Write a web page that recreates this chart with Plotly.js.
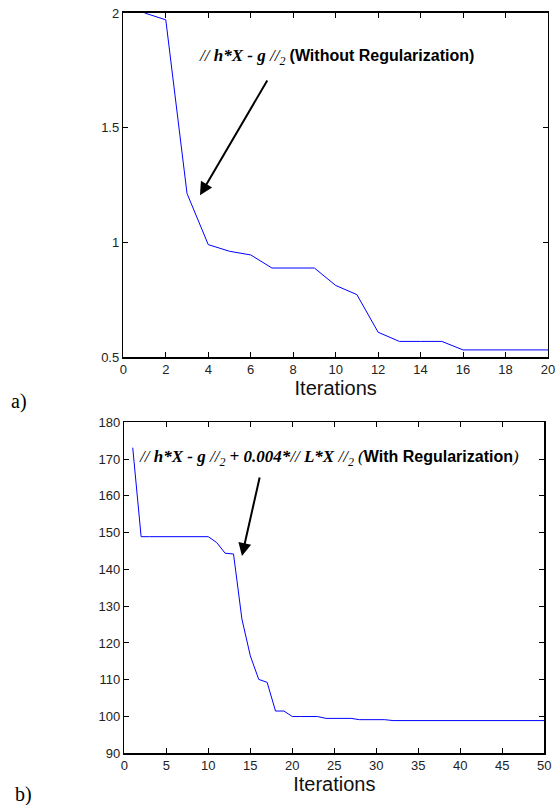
<!DOCTYPE html>
<html>
<head>
<meta charset="utf-8">
<script src="https://cdn.plot.ly/plotly-3.0.1.min.js"></script>
<style>html,body{margin:0;padding:0;background:#fff;}#chart{width:556px;height:805px;}</style>
</head>
<body>
<div id="chart"></div>
<script>
// Panel a) : without regularization
const iterA = [1,2,3,4,5,6,7,8,9,10,11,12,13,14,15,16,17,18,19,20];
const errA  = [2.0,1.97,1.213,0.99,0.961,0.945,0.888,0.888,0.888,0.812,0.772,0.608,0.568,0.568,0.568,0.531,0.531,0.531,0.531,0.531];

// Panel b) : with regularization
const iterB = [1,2,3,4,5,6,7,8,9,10,11,12,13,14,15,16,17,18,19,20,21,22,23,24,25,26,27,28,29,30,31,32,33,34,35,36,37,38,39,40,41,42,43,44,45,46,47,48,49,50];
const errB  = [173.1,148.9,148.9,148.9,148.9,148.9,148.9,148.9,148.9,148.9,147.3,144.4,144.2,126.5,116.5,110.1,109.3,101.5,101.5,100.0,100.0,100.0,100.0,99.5,99.5,99.5,99.5,99.15,99.15,99.15,99.15,98.9,98.9,98.9,98.9,98.9,98.9,98.9,98.9,98.9,98.9,98.9,98.9,98.9,98.9,98.9,98.9,98.9,98.9,98.9];

const ticksAx = [0,2,4,6,8,10,12,14,16,18,20];
const ticksAy = [0.5,1,1.5,2];
const ticksBx = [0,5,10,15,20,25,30,35,40,45,50];
const ticksBy = [90,100,110,120,130,140,150,160,170,180];

const axisFont = {family:'Liberation Sans, Arial, sans-serif', size:13, color:'#222'};
const common = {
  showline:true, linecolor:'#000', linewidth:1.5, mirror:'ticks',
  ticks:'inside', ticklen:5, tickcolor:'#000', tickwidth:1,
  showgrid:false, zeroline:false, tickfont:axisFont, tickmode:'array'
};

const traces = [
  {x:iterA, y:errA, type:'scatter', mode:'lines', line:{color:'#0000ff', width:1}, xaxis:'x', yaxis:'y', hoverinfo:'skip'},
  {x:iterB, y:errB, type:'scatter', mode:'lines', line:{color:'#0000ff', width:1}, xaxis:'x2', yaxis:'y2', hoverinfo:'skip'}
];

const titleFont = {family:'Liberation Sans, Arial, sans-serif', size:20, color:'#111'};
const sans = 'font-family:Liberation Sans, Arial, sans-serif';
const serifFont = {family:'Liberation Serif, Times New Roman, serif', size:17, color:'#000'};

const layout = {
  width:556, height:805,
  margin:{l:0, r:0, t:0, b:0},
  paper_bgcolor:'#fff', plot_bgcolor:'#fff',
  showlegend:false,
  font:{family:'Liberation Serif, Times New Roman, serif', color:'#000'},
  xaxis: Object.assign({}, common, {domain:[0.2218,0.9856], range:[0,20], tickvals:ticksAx, anchor:'y',
    title:{text:'Iterations', font:titleFont, standoff:2}}),
  yaxis: Object.assign({}, common, {domain:[0.5565,0.9839], range:[0.5,2], tickvals:ticksAy, ticktext:['0.5','1','1.5','2'], anchor:'x'}),
  xaxis2: Object.assign({}, common, {domain:[0.2236,0.979], range:[0,50], tickvals:ticksBx, anchor:'y2',
    title:{text:'Iterations', font:titleFont, standoff:2}}),
  yaxis2: Object.assign({}, common, {domain:[0.0642,0.4754], range:[90,180], tickvals:ticksBy, anchor:'x2'}),
  annotations:[
    {xref:'paper', yref:'paper', x:0.354, y:0.929, xanchor:'left', yanchor:'middle', showarrow:false,
     font:serifFont,
     text:'<i>// </i><b><i>h*X - g</i></b><i> //<sub>2</sub></i> <span style="'+sans+';font-size:16px"><b>(Without Regularization)</b></span>'},
    {xref:'x', yref:'y', x:3.61, y:1.205, axref:'x', ayref:'y', ax:6.82, ay:1.712, text:'', showarrow:true,
     arrowhead:2, arrowsize:1.3, arrowwidth:2, arrowcolor:'#000'},
    {xref:'paper', yref:'paper', x:0.2464, y:0.431, xanchor:'left', yanchor:'middle', showarrow:false,
     font:serifFont,
     text:'<i>// </i><b><i>h*X - g</i></b><i> //<sub>2</sub></i><b><i> + 0.004*</i></b><i>// </i><b><i>L*X</i></b><i> //<sub>2</sub> (</i><span style="'+sans+';font-size:16px"><b>With Regularization</b></span><i>)</i>'},
    {xref:'x2', yref:'y2', x:14.0, y:143.65, axref:'x2', ayref:'y2', ax:16.15, ay:165.4, text:'', showarrow:true,
     arrowhead:2, arrowsize:1.3, arrowwidth:2, arrowcolor:'#000'},
    {xref:'paper', yref:'paper', x:9/556, y:1-401/805, xanchor:'left', yanchor:'middle', showarrow:false,
     font:{family:'Liberation Serif, Times New Roman, serif', size:20, color:'#000'}, text:'a)'},
    {xref:'paper', yref:'paper', x:13/556, y:1-794/805, xanchor:'left', yanchor:'middle', showarrow:false,
     font:{family:'Liberation Serif, Times New Roman, serif', size:20, color:'#000'}, text:'b)'}
  ]
};

Plotly.newPlot('chart', traces, layout, {staticPlot:true, displayModeBar:false});
</script>
</body>
</html>
